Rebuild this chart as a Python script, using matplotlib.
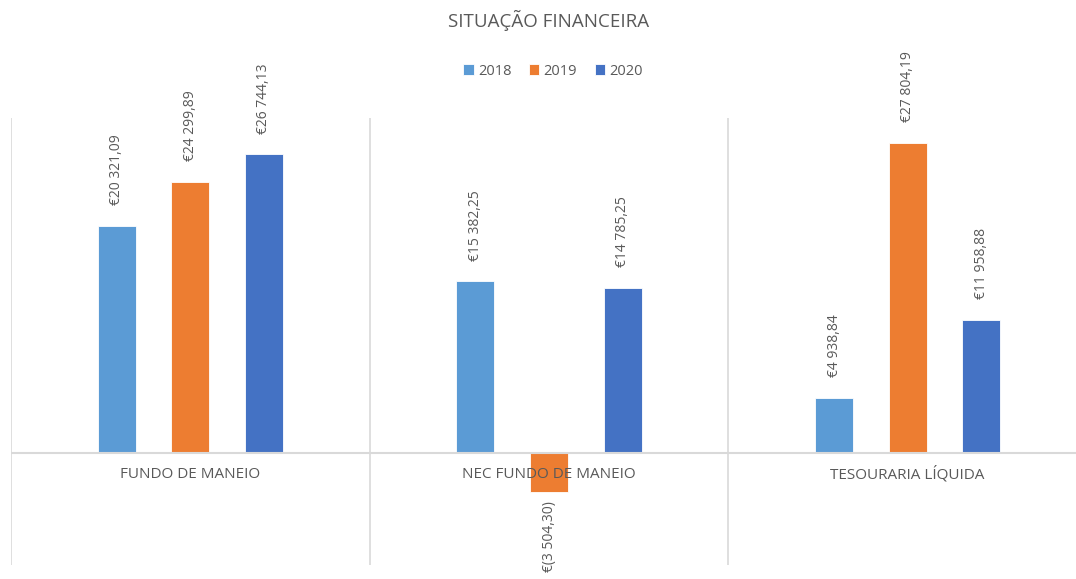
import matplotlib
matplotlib.use("Agg")
import matplotlib.pyplot as plt
import numpy as np

categories = ["FUNDO DE MANEIO", "NEC FUNDO DE MANEIO", "TESOURARIA LÍQUIDA"]
years = ["2018", "2019", "2020"]
values_2018 = [20321.09, 15382.25, 4938.84]
values_2019 = [24299.89, -3504.30, 27804.19]
values_2020 = [26744.13, 14785.25, 11958.88]
series = [values_2018, values_2019, values_2020]
colors = ["#5B9BD5", "#ED7D31", "#4472C4"]

plt.rcParams['font.family'] = ['Open Sans', 'DejaVu Sans']
text_color = "#595959"
grid_color = "#D9D9D9"

def fmt(v):
    s = f"{abs(v):,.2f}".replace(",", " ").replace(".", ",")
    return f"€({s})" if v < 0 else f"€{s}"

fig = plt.figure(figsize=(10.76, 5.79), dpi=100)
ax = fig.add_axes([11/1076, 1 - 565/579, 1076/1076, 447/579])
ax.set_xlim(-0.5, 2.5)
ax.set_ylim(-10000, 30000)

x = np.arange(len(categories))
width = 0.106
offsets = [-0.205, 0, 0.205]
for vals, off, c, yr in zip(series, offsets, colors, years):
    bars = ax.bar(x + off, vals, width, color=c, edgecolor="white", linewidth=0.6,
                  label=yr, zorder=2)
    for b, v in zip(bars, vals):
        xc = b.get_x() + b.get_width() / 2
        if v >= 0:
            ax.annotate(fmt(v), (xc, v), xytext=(0, 15), textcoords="offset points",
                        rotation=90, ha="center", va="bottom", fontsize=10,
                        color=text_color, zorder=4)
        else:
            ax.annotate(fmt(v), (xc, v), xytext=(0, -6), textcoords="offset points",
                        rotation=90, ha="center", va="top", fontsize=10,
                        color=text_color, zorder=4)

ax.axhline(0, color=grid_color, linewidth=1.5, zorder=3)
for b in [-0.5, 0.5, 1.5, 2.5]:
    ax.axvline(b, color=grid_color, linewidth=1.2, zorder=1)

for xi, cat in zip(x, categories):
    ax.text(xi, -1900, cat, ha="center", va="center", fontsize=11,
            color=text_color, zorder=5)

ax.set_xticks([])
ax.set_yticks([])
for s in ax.spines.values():
    s.set_visible(False)

fig.text(549/1076, 1 - 20/579, "SITUAÇÃO FINANCEIRA", ha="center", va="center",
         fontsize=13.5, color=text_color)

leg = fig.legend(loc="center", bbox_to_anchor=(553/1076, 1 - 71/579), ncol=3,
                 frameon=False, fontsize=10.5, handlelength=0.7, handleheight=0.7,
                 handletextpad=0.3, columnspacing=1.2, labelcolor=text_color)

fig.savefig("out.png", dpi=100)
